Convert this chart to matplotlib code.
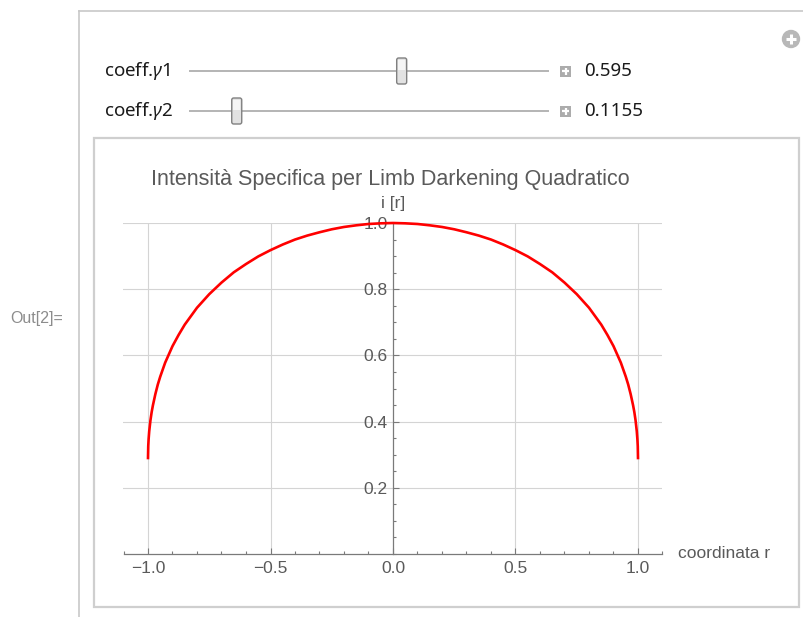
import matplotlib
matplotlib.use("Agg")
import matplotlib.pyplot as plt
from matplotlib.patches import Rectangle, FancyBboxPatch, Circle
from matplotlib.ticker import MultipleLocator

# valori
gamma_names = ["1", "2"]
gamma_values = [0.595, 0.1155]
gamma_labels = ["0.595", "0.1155"]
slider_range = (0.0, 1.0)

r_vals = [-1.0, -0.999, -0.9975, -0.995, -0.99, -0.985, -0.98, -0.97, -0.96, -0.95,
          -0.93, -0.9, -0.875, -0.85, -0.8, -0.75, -0.7, -0.65, -0.6, -0.55,
          -0.5, -0.45, -0.4, -0.35, -0.3, -0.25, -0.2, -0.15, -0.1, -0.05, 0.0,
          0.05, 0.1, 0.15, 0.2, 0.25, 0.3, 0.35, 0.4, 0.45, 0.5,
          0.55, 0.6, 0.65, 0.7, 0.75, 0.8, 0.85, 0.875, 0.9, 0.93,
          0.95, 0.96, 0.97, 0.98, 0.985, 0.99, 0.995, 0.9975, 0.999, 1.0]
i_vals = [0.290, 0.326, 0.347, 0.371, 0.404, 0.429, 0.449, 0.483, 0.512, 0.536,
          0.578, 0.628, 0.662, 0.693, 0.744, 0.785, 0.820, 0.851, 0.876, 0.899,
          0.918, 0.935, 0.950, 0.962, 0.972, 0.981, 0.988, 0.993, 0.997, 0.999, 1.000,
          0.999, 0.997, 0.993, 0.988, 0.981, 0.972, 0.962, 0.950, 0.935, 0.918,
          0.899, 0.876, 0.851, 0.820, 0.785, 0.744, 0.693, 0.662, 0.628, 0.578,
          0.536, 0.512, 0.483, 0.449, 0.429, 0.404, 0.371, 0.347, 0.326, 0.290]

x_ticks = [-1.0, -0.5, 0.0, 0.5, 1.0]
y_ticks = [0.2, 0.4, 0.6, 0.8, 1.0]

W, H = 804, 617
plt.rcParams['mathtext.fontset'] = 'custom'
plt.rcParams['mathtext.it'] = 'Noto Sans:italic'
plt.rcParams['mathtext.rm'] = 'Noto Sans'

fig = plt.figure(figsize=(W / 100, H / 100), dpi=100)

# livello "interfaccia" in pixel
ui = fig.add_axes([0, 0, 1, 1], zorder=0)
ui.set_xlim(0, W)
ui.set_ylim(H, 0)
ui.axis('off')

frame_col = "#c8c8c8"
ui.plot([79.5, 79.5], [10.5, H], color=frame_col, lw=1.2)
ui.plot([79.5, W], [10.5, 10.5], color=frame_col, lw=1.2)
ui.text(10, 319, "Out[2]=", family="Liberation Sans", fontsize=11.5,
        color="#8c8c8c", va="center", ha="left")

# icona + in alto a destra
ui.add_patch(Circle((791, 39), 8.5, color="#b8b8b8"))
ui.plot([786, 796], [39, 39], color="white", lw=2.2, solid_capstyle="butt")
ui.plot([791, 791], [34, 44], color="white", lw=2.2, solid_capstyle="butt")

# slider
x0, L = 197, 344
for k, (name, val, lab) in enumerate(zip(gamma_names, gamma_values, gamma_labels)):
    yc = 71 + 40 * k
    ui.text(104, yc, r"coeff.$\gamma$" + name, family="Noto Sans", fontsize=13.5,
            color="#1a1a1a", va="center", ha="left")
    ui.plot([190, 548], [yc, yc], color="#b4b4b4", lw=1.4)
    px = x0 + (val - slider_range[0]) / (slider_range[1] - slider_range[0]) * L
    ui.add_patch(FancyBboxPatch((px - 5, yc - 13), 10, 26,
                                boxstyle="round,pad=0,rounding_size=2",
                                fc="#e2e2e2", ec="#808080", lw=1.0, zorder=3))
    ui.add_patch(Rectangle((px - 3.5, yc - 11), 7, 10, fc="#f5f5f5", ec="none", zorder=4))
    ui.add_patch(Rectangle((560.5, yc - 5.5), 11, 11, fc="#acacac", ec="none"))
    ui.plot([562.5, 569.5], [yc, yc], color="white", lw=1.6, solid_capstyle="butt")
    ui.plot([566, 566], [yc - 3.5, yc + 3.5], color="white", lw=1.6, solid_capstyle="butt")
    ui.text(584, yc, lab, family="Noto Sans", fontsize=13.5,
            color="#1a1a1a", va="center", ha="left")

# riquadro del grafico
ui.add_patch(Rectangle((94, 138), 705, 469, fc="none", ec="#cfcfcf", lw=1.6))

# grafico
ax = fig.add_axes([123.5 / W, 63 / H, 539 / W, 331 / H], zorder=1)
ax.set_facecolor("none")
ax.plot(r_vals, i_vals, color="#ff0000", lw=1.9, clip_on=False, zorder=5)
ax.set_xlim(-1.1, 1.1)
ax.set_ylim(0, 1.0)

axis_col = "#7a7a7a"
lab_col = "#5a5a5a"
for s in ['top', 'right']:
    ax.spines[s].set_visible(False)
ax.spines['left'].set_position(('data', 0))
ax.spines['bottom'].set_position(('data', 0))
for s in ['left', 'bottom']:
    ax.spines[s].set_color(axis_col)
    ax.spines[s].set_linewidth(0.9)

ax.set_xticks(x_ticks)
ax.set_yticks(y_ticks)
ax.set_xticklabels([f"{v:.1f}".replace("-", "\u2212") for v in x_ticks])
ax.set_yticklabels([f"{v:.1f}" for v in y_ticks])
ax.xaxis.set_minor_locator(MultipleLocator(0.1))
ax.yaxis.set_minor_locator(MultipleLocator(0.05))
ax.tick_params(which='both', direction='in', color=axis_col, width=0.8,
               labelcolor=lab_col, labelsize=12.5, labelfontfamily="Liberation Sans")
ax.tick_params(which='major', length=4.5)
ax.tick_params(which='minor', length=2.5)
ax.tick_params(axis='y', pad=4)
ax.tick_params(axis='x', pad=5)

for v in x_ticks:
    if v != 0:
        ax.axvline(v, color="#d4d4d4", lw=0.8, zorder=0)
for v in y_ticks:
    ax.axhline(v, color="#d4d4d4", lw=0.8, zorder=0)

ax.text(0, 1.058, "i [r]", ha="center", va="center",
        family="Liberation Sans", fontsize=12.5, color=lab_col)
ax.text(1.163, 0, "coordinata r", ha="left", va="center",
        family="Liberation Sans", fontsize=12.5, color=lab_col)
ax.text(-0.01, 1.13, "Intensità Specifica per Limb Darkening Quadratico",
        ha="center", va="center", family="Liberation Sans", fontsize=15.5,
        color=lab_col)

fig.savefig("out.png", dpi=100)
